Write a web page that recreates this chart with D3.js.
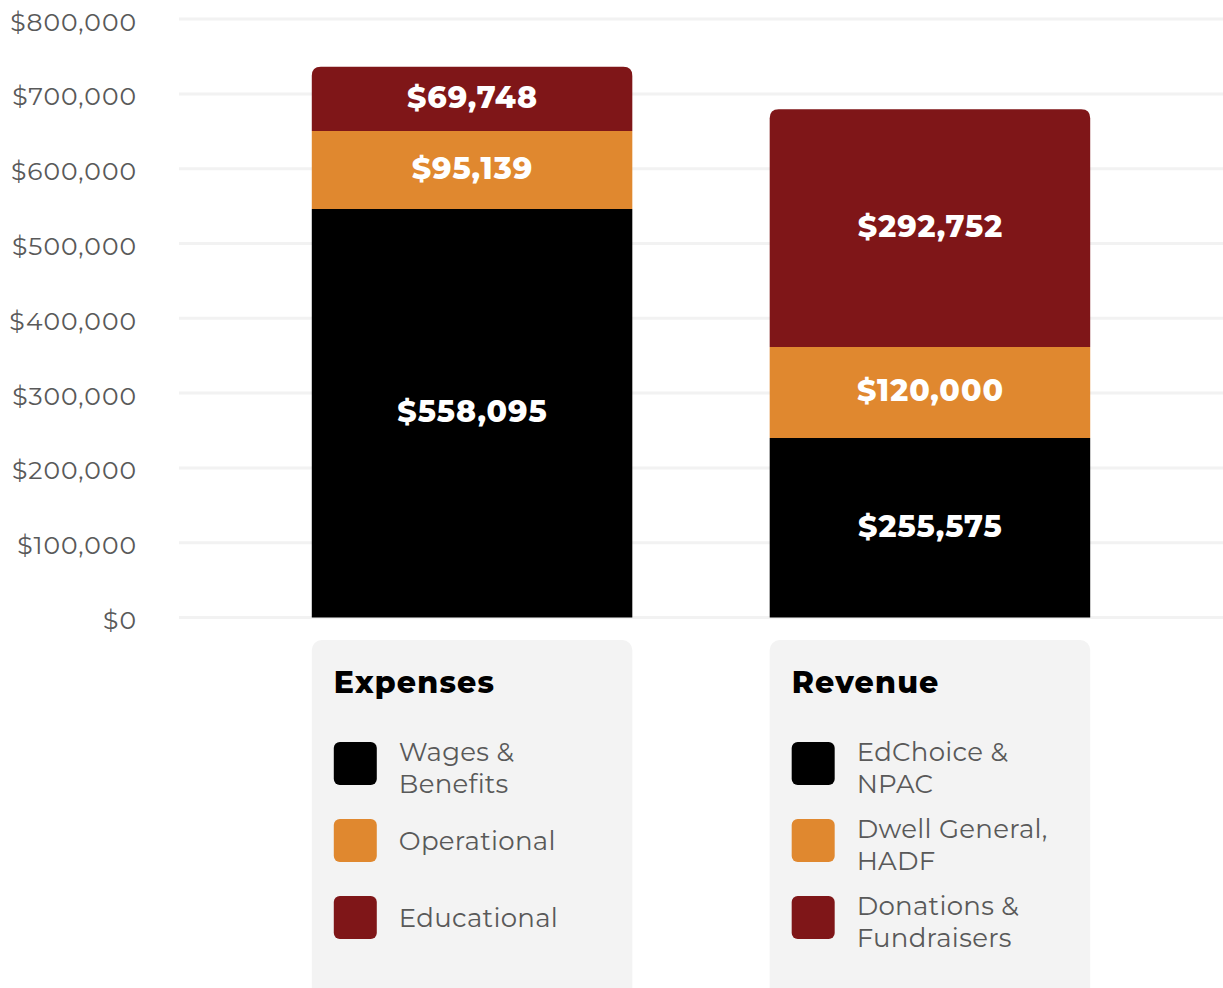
<!DOCTYPE html>
<html>
<head>
<meta charset="utf-8">
<script src="https://cdn.jsdelivr.net/npm/d3@7"></script>
<style>
  body { margin: 0; background: #fff; }
  svg { display: block; font-family: Montserrat, "Open Sans", sans-serif; }
</style>
</head>
<body>
<div id="chart"></div>
<script>
// groups and segments, bottom to top
var groups = ["Expenses", "Revenue"];
var segments = ["base", "middle", "top"];

// bar heights
var expenseValues = [546100, 104300, 86000];
var revenueValues = [240000, 121700, 317800];

// printed labels on the bars
var expenseLabels = ["$558,095", "$95,139", "$69,748"];
var revenueLabels = ["$255,575", "$120,000", "$292,752"];

// legend entries
var expenseNames = [["Wages &", "Benefits"], ["Operational"], ["Educational"]];
var revenueNames = [["EdChoice &", "NPAC"], ["Dwell General,", "HADF"], ["Donations &", "Fundraisers"]];

var yTicks = [0, 100000, 200000, 300000, 400000, 500000, 600000, 700000, 800000];
var colors = ["#000000", "#e0882f", "#7f1618"];

var width = 1223, height = 988;

var svg = d3.select("#chart")
            .append("svg")
            .attr("width", width)
            .attr("height", height);

var x = d3.scaleBand()
          .domain(groups)
          .range([179, 1223])
          .paddingInner(0.3)
          .paddingOuter(0.29);

var y = d3.scaleLinear()
          .domain([0, 800000])
          .range([617.5, 19.1]);

// gridlines
svg.append("g")
   .selectAll("line")
   .data(yTicks)
   .enter()
   .append("line")
   .attr("x1", 179)
   .attr("x2", width)
   .attr("y1", function(d) { return y(d); })
   .attr("y2", function(d) { return y(d); })
   .attr("stroke", "#f2f2f2")
   .attr("stroke-width", 3);

// y axis labels
var fmt = d3.format("$,");
var yAxis = svg.append("g")
               .attr("transform", "translate(147,0)")
               .call(d3.axisLeft(y).tickValues(yTicks).tickFormat(fmt).tickSize(0).tickPadding(10));
yAxis.select(".domain").remove();
yAxis.selectAll("text")
     .attr("font-size", 25)
     .attr("letter-spacing", 1)
     .attr("font-family", "Montserrat, 'Open Sans', sans-serif")
     .attr("fill", "#595959")
     .attr("dy", "0.44em");

var table = groups.map(function(g, i) {
  var vals = i === 0 ? expenseValues : revenueValues;
  var row = {group: g};
  segments.forEach(function(s, j) { row[s] = vals[j]; });
  return row;
});

var stack = d3.stack().keys(segments);
var series = stack(table);

var r = 9;
function segPath(d, isTop) {
  var x0 = x(d.data.group), x1 = x0 + x.bandwidth();
  var y0 = y(d[0]), y1 = y(d[1]);
  if (!isTop) {
    return "M" + x0 + "," + y0 + "V" + y1 + "H" + x1 + "V" + y0 + "Z";
  }
  return "M" + x0 + "," + y0 +
         "V" + (y1 + r) +
         "Q" + x0 + "," + y1 + " " + (x0 + r) + "," + y1 +
         "H" + (x1 - r) +
         "Q" + x1 + "," + y1 + " " + x1 + "," + (y1 + r) +
         "V" + y0 + "Z";
}

series.forEach(function(s, j) {
  var layer = svg.append("g").attr("class", "layer");
  layer.selectAll("path")
       .data(s)
       .enter()
       .append("path")
       .attr("d", function(d) { return segPath(d, j === segments.length - 1); })
       .attr("fill", colors[j]);

  layer.selectAll("text")
       .data(s)
       .enter()
       .append("text")
       .attr("x", function(d) { return x(d.data.group) + x.bandwidth() / 2 + 0.5; })
       .attr("y", function(d) { return (y(d[0]) + y(d[1])) / 2 - 2; })
       .attr("dy", "0.36em")
       .attr("text-anchor", "middle")
       .attr("fill", "#fff")
       .attr("font-size", 30)
       .attr("font-weight", 800)
       .attr("letter-spacing", 1)
       .text(function(d, i) {
         return (i === 0 ? expenseLabels : revenueLabels)[j];
       });
});

// legend panels
groups.forEach(function(g, i) {
  var names = i === 0 ? expenseNames : revenueNames;
  var px = x(g);
  var panel = svg.append("g").attr("transform", "translate(" + px + ",640)");

  panel.append("rect")
       .attr("width", x.bandwidth())
       .attr("height", 380)
       .attr("rx", 10)
       .attr("fill", "#f3f3f3");

  panel.append("text")
       .attr("x", 22)
       .attr("y", 53)
       .attr("font-size", 30)
       .attr("font-weight", 800)
       .attr("letter-spacing", 1.2)
       .attr("fill", "#000")
       .text(g);

  var item = panel.selectAll(".item")
                  .data(names)
                  .enter()
                  .append("g")
                  .attr("class", "item")
                  .attr("transform", function(d, k) { return "translate(22," + (102 + k * 77) + ")"; });

  item.append("rect")
      .attr("width", 43)
      .attr("height", 43)
      .attr("rx", 6)
      .attr("fill", function(d, k) { return colors[k]; });

  item.append("text")
      .attr("x", 65)
      .attr("font-size", 26)
      .attr("letter-spacing", 0.3)
      .attr("fill", "#595959")
      .selectAll("tspan")
      .data(function(d) { return d; })
      .enter()
      .append("tspan")
      .attr("x", 65)
      .attr("y", function(d, k, nodes) {
        var n = nodes.length;
        return n === 1 ? 31 : 19 + k * 32;
      })
      .text(function(d) { return d; });
});
</script>
</body>
</html>
